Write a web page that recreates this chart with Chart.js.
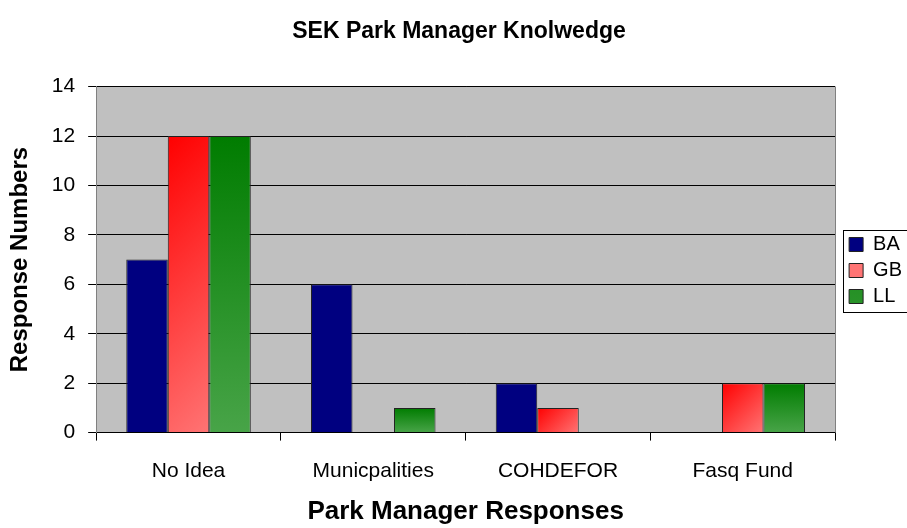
<!DOCTYPE html>
<html>
<head>
<meta charset="utf-8">
<script src="https://cdn.jsdelivr.net/npm/chart.js@4/dist/chart.umd.min.js"></script>
<style>
  html, body { margin: 0; padding: 0; background: #fff; }
  #wrap { width: 907px; height: 528px; overflow: hidden; }
</style>
</head>
<body>
<div id="wrap"><canvas id="chart" width="907" height="528"></canvas></div>
<script>
// Données
const categories = ['No Idea', 'Municpalities', 'COHDEFOR', 'Fasq Fund'];
const baValues = [7, 6, 2, 0];
const gbValues = [12, 0, 1, 2];
const llValues = [12, 1, 0, 2];
const yTicks = [0, 2, 4, 6, 8, 10, 12, 14];

const CAT_PCT = 0.674;
const FONT = 'Arial, "Liberation Sans", sans-serif';

// dégradé par barre
function barGradient(ctx, from, to, diagonal, fallback) {
  if (ctx.type !== 'data') return fallback;
  const chart = ctx.chart;
  const xs = chart.scales.x, ys = chart.scales.y;
  if (!xs || !ys || !xs.width) return fallback;
  const w = xs.width / categories.length * CAT_PCT / 3;
  const cx = xs.getPixelForValue(ctx.dataIndex) + (ctx.datasetIndex - 1) * w;
  const top = ys.getPixelForValue(ctx.raw);
  const base = ys.getPixelForValue(0);
  if (!isFinite(cx) || !isFinite(top) || !isFinite(base) || top === base) return fallback;
  const left = cx - w / 2;
  const d = (w + base - top) / 2;
  const g = diagonal
    ? chart.ctx.createLinearGradient(left, top, left + d, top + d)
    : chart.ctx.createLinearGradient(0, top, 0, base);
  g.addColorStop(0, from);
  g.addColorStop(1, to);
  return g;
}

// fond gris de la zone de tracé
const plotBg = {
  id: 'plotBg',
  beforeDraw(chart) {
    const { ctx, chartArea: a } = chart;
    ctx.save();
    ctx.fillStyle = '#C0C0C0';
    ctx.fillRect(a.left, a.top, a.right - a.left, a.bottom - a.top);
    ctx.restore();
  },
  afterDatasetsDraw(chart) {
    const { ctx, chartArea: a } = chart;
    ctx.save();
    ctx.strokeStyle = '#808080';
    ctx.lineWidth = 1;
    ctx.beginPath();
    ctx.moveTo(Math.round(a.right) + 0.5, a.top);
    ctx.lineTo(Math.round(a.right) + 0.5, a.bottom);
    ctx.stroke();
    ctx.restore();
  }
};

// cadre de la légende
const legendBox = {
  id: 'legendBox',
  afterDraw(chart) {
    const lg = chart.legend;
    if (!lg || !lg.legendHitBoxes || !lg.legendHitBoxes.length) return;
    const boxes = lg.legendHitBoxes;
    const left = Math.min(...boxes.map(b => b.left)) - 6;
    const top = Math.min(...boxes.map(b => b.top)) - 5;
    const bottom = Math.max(...boxes.map(b => b.top + b.height)) + 5;
    const ctx = chart.ctx;
    ctx.save();
    ctx.strokeStyle = '#000';
    ctx.lineWidth = 1;
    ctx.strokeRect(Math.round(left) + 0.5, Math.round(top) + 0.5, 200, Math.round(bottom - top));
    ctx.restore();
  }
};

new Chart(document.getElementById('chart'), {
  type: 'bar',
  data: {
    labels: categories,
    datasets: [
      {
        label: 'BA',
        data: baValues,
        backgroundColor: '#000080',
        borderColor: '#222',
        borderWidth: 1
      },
      {
        label: 'GB',
        data: gbValues,
        backgroundColor: ctx => barGradient(ctx, '#FF0000', '#FF7474', true, '#FF4A4A'),
        borderColor: '#222',
        borderWidth: 1
      },
      {
        label: 'LL',
        data: llValues,
        backgroundColor: ctx => barGradient(ctx, '#007C00', '#48A448', false, '#2E8B2E'),
        borderColor: '#222',
        borderWidth: 1
      }
    ]
  },
  options: {
    responsive: false,
    animation: false,
    devicePixelRatio: 1,
    datasets: {
      bar: { categoryPercentage: CAT_PCT, barPercentage: 1 }
    },
    layout: { padding: { left: 6, right: -5, top: 0, bottom: 1 } },
    scales: {
      x: {
        grid: { offset: true, drawOnChartArea: false, drawTicks: true, tickLength: 8, color: '#000', tickColor: '#000' },
        border: { color: '#000', width: 1 },
        ticks: { color: '#000', font: { family: FONT, size: 21 }, padding: 18, maxRotation: 0, autoSkip: false },
        title: {
          display: true,
          text: 'Park Manager Responses',
          color: '#000',
          font: { family: FONT, size: 26, weight: 'bold' },
          padding: { top: -6, bottom: 0 }
        }
      },
      y: {
        min: 0,
        max: 14,
        afterBuildTicks: axis => { axis.ticks = yTicks.map(v => ({ value: v })); },
        grid: { color: '#000', tickColor: '#000', tickLength: 8, lineWidth: 1 },
        border: { color: '#808080', width: 1 },
        ticks: { color: '#000', font: { family: FONT, size: 21 }, padding: 13 },
        title: {
          display: true,
          text: 'Response Numbers',
          color: '#000',
          font: { family: FONT, size: 24, weight: 'bold' },
          padding: { top: 0, bottom: 4 }
        }
      },
      // espace blanc entre la zone de tracé et la légende
      gap: {
        type: 'linear',
        position: 'right',
        min: 0,
        max: 1,
        grid: { display: false },
        border: { display: false },
        ticks: { display: false },
        afterFit: axis => { axis.width = 8; }
      }
    },
    plugins: {
      title: {
        display: true,
        text: 'SEK Park Manager Knolwedge',
        color: '#000',
        font: { family: FONT, size: 23, weight: 'bold' },
        padding: { top: 18, bottom: 41 }
      },
      legend: {
        position: 'right',
        title: {
          display: true,
          text: ' ',
          font: { family: FONT, size: 10 },
          padding: { top: 1, bottom: 1 }
        },
        labels: {
          color: '#000',
          font: { family: FONT, size: 20 },
          boxWidth: 14,
          boxHeight: 14,
          padding: 6
        }
      },
      tooltip: { enabled: false }
    }
  },
  plugins: [plotBg, legendBox]
});
</script>
</body>
</html>
